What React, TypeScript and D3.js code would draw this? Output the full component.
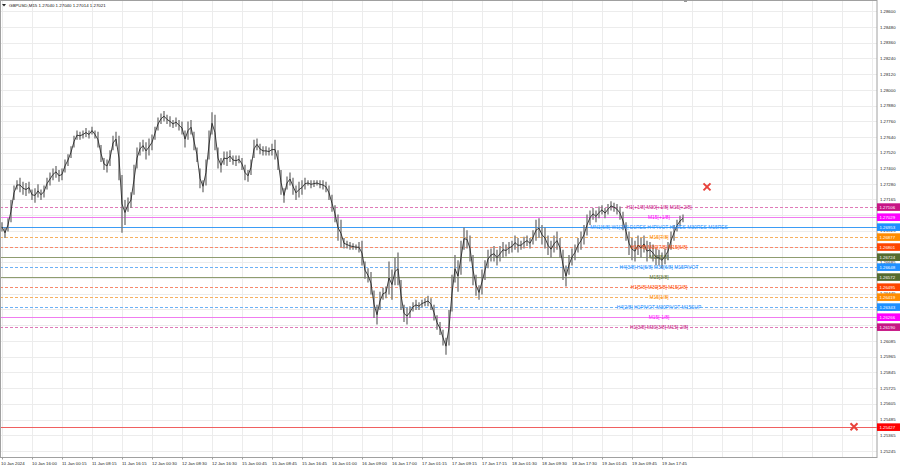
import React, { useEffect } from 'react';
import * as d3 from 'd3';

// price bars (one entry per ~50 min)
const highs = [
  1.2699, 1.2695, 1.2702, 1.2716, 1.2727, 1.2731, 1.2733, 1.2730, 1.2729, 1.2730,
  1.2724, 1.2725, 1.2728, 1.2724, 1.2727, 1.2733, 1.2737, 1.2740, 1.2742, 1.2739,
  1.2740, 1.2747, 1.2751, 1.2757, 1.2765, 1.2769, 1.2768, 1.2769, 1.2771, 1.2769,
  1.2772, 1.2769, 1.2768, 1.2758, 1.2748, 1.2747, 1.2754, 1.2765, 1.2768, 1.2765,
  1.2735, 1.2716, 1.2718, 1.2722, 1.2743, 1.2756, 1.2760, 1.2762, 1.2760, 1.2763,
  1.2766, 1.2772, 1.2779, 1.2782, 1.2784, 1.2781, 1.2780, 1.2777, 1.2779, 1.2777,
  1.2776, 1.2769, 1.2776, 1.2777, 1.2768, 1.2756, 1.2740, 1.2731, 1.2747, 1.2769,
  1.2783, 1.2781, 1.2756, 1.2748, 1.2753, 1.2753, 1.2754, 1.2750, 1.2750, 1.2750,
  1.2748, 1.2743, 1.2739, 1.2747, 1.2762, 1.2763, 1.2759, 1.2757, 1.2757, 1.2756,
  1.2759, 1.2762, 1.2754, 1.2739, 1.2725, 1.2734, 1.2737, 1.2733, 1.2727, 1.2730,
  1.2731, 1.2733, 1.2731, 1.2731, 1.2731, 1.2731, 1.2731, 1.2731, 1.2730, 1.2727,
  1.2720, 1.2712, 1.2705, 1.2701, 1.2687, 1.2685, 1.2684, 1.2683, 1.2682, 1.2684,
  1.2685, 1.2669, 1.2664, 1.2661, 1.2647, 1.2636, 1.2646, 1.2649, 1.2650, 1.2669,
  1.2663, 1.2672, 1.2676, 1.2655, 1.2636, 1.2634, 1.2635, 1.2638, 1.2640, 1.2638,
  1.2640, 1.2641, 1.2643, 1.2641, 1.2636, 1.2628, 1.2623, 1.2617, 1.2611, 1.2632,
  1.2659, 1.2674, 1.2670, 1.2685, 1.2695, 1.2693, 1.2689, 1.2674, 1.2659, 1.2651,
  1.2663, 1.2670, 1.2678, 1.2679, 1.2681, 1.2678, 1.2681, 1.2684, 1.2682, 1.2684,
  1.2685, 1.2689, 1.2687, 1.2685, 1.2688, 1.2689, 1.2687, 1.2693, 1.2701, 1.2702,
  1.2697, 1.2695, 1.2689, 1.2685, 1.2689, 1.2692, 1.2687, 1.2678, 1.2666, 1.2674,
  1.2679, 1.2682, 1.2687, 1.2692, 1.2697, 1.2705, 1.2708, 1.2710, 1.2708, 1.2711,
  1.2712, 1.2710, 1.2713, 1.2715, 1.2714, 1.2713, 1.2711, 1.2707, 1.2699, 1.2692,
  1.2687, 1.2685, 1.2689, 1.2687, 1.2689, 1.2685, 1.2684, 1.2682, 1.2679, 1.2678,
  1.2676, 1.2679, 1.2684, 1.2692, 1.2697, 1.2701, 1.2704, 1.2705,
];
const lows = [
  1.2692, 1.2687, 1.2692, 1.2699, 1.2716, 1.2724, 1.2722, 1.2720, 1.2719, 1.2721,
  1.2716, 1.2714, 1.2718, 1.2716, 1.2718, 1.2724, 1.2727, 1.2731, 1.2733, 1.2730,
  1.2731, 1.2737, 1.2742, 1.2748, 1.2756, 1.2762, 1.2762, 1.2763, 1.2764, 1.2763,
  1.2766, 1.2763, 1.2756, 1.2745, 1.2739, 1.2737, 1.2742, 1.2754, 1.2757, 1.2731,
  1.2691, 1.2697, 1.2707, 1.2710, 1.2720, 1.2740, 1.2750, 1.2753, 1.2747, 1.2750,
  1.2754, 1.2762, 1.2769, 1.2774, 1.2776, 1.2774, 1.2772, 1.2771, 1.2772, 1.2769,
  1.2766, 1.2756, 1.2762, 1.2766, 1.2754, 1.2745, 1.2725, 1.2722, 1.2727, 1.2747,
  1.2766, 1.2754, 1.2740, 1.2737, 1.2743, 1.2742, 1.2745, 1.2743, 1.2742, 1.2744,
  1.2739, 1.2731, 1.2730, 1.2735, 1.2748, 1.2754, 1.2751, 1.2750, 1.2750, 1.2750,
  1.2750, 1.2747, 1.2739, 1.2720, 1.2714, 1.2724, 1.2727, 1.2720, 1.2716, 1.2718,
  1.2720, 1.2724, 1.2727, 1.2725, 1.2726, 1.2727, 1.2725, 1.2724, 1.2722, 1.2716,
  1.2707, 1.2699, 1.2685, 1.2680, 1.2679, 1.2679, 1.2678, 1.2678, 1.2678, 1.2676,
  1.2666, 1.2656, 1.2653, 1.2644, 1.2626, 1.2621, 1.2632, 1.2640, 1.2641, 1.2644,
  1.2640, 1.2651, 1.2651, 1.2632, 1.2623, 1.2621, 1.2626, 1.2631, 1.2632, 1.2632,
  1.2634, 1.2635, 1.2635, 1.2632, 1.2624, 1.2617, 1.2613, 1.2605, 1.2598, 1.2605,
  1.2631, 1.2653, 1.2646, 1.2659, 1.2678, 1.2679, 1.2669, 1.2651, 1.2643, 1.2640,
  1.2644, 1.2655, 1.2664, 1.2669, 1.2669, 1.2666, 1.2669, 1.2672, 1.2673, 1.2675,
  1.2676, 1.2678, 1.2676, 1.2678, 1.2679, 1.2681, 1.2679, 1.2682, 1.2685, 1.2687,
  1.2682, 1.2679, 1.2674, 1.2672, 1.2676, 1.2678, 1.2672, 1.2655, 1.2650, 1.2659,
  1.2666, 1.2670, 1.2676, 1.2678, 1.2682, 1.2689, 1.2697, 1.2701, 1.2699, 1.2702,
  1.2705, 1.2702, 1.2705, 1.2708, 1.2707, 1.2705, 1.2701, 1.2693, 1.2685, 1.2674,
  1.2670, 1.2669, 1.2674, 1.2672, 1.2676, 1.2669, 1.2672, 1.2669, 1.2666, 1.2666,
  1.2664, 1.2667, 1.2670, 1.2678, 1.2685, 1.2692, 1.2696, 1.2699,
];

const timeLabels = [
  '10 Jan 2024', '10 Jan 16:00', '11 Jan 00:15', '11 Jan 08:15', '11 Jan 16:15',
  '12 Jan 00:30', '12 Jan 08:30', '12 Jan 16:30', '15 Jan 00:45', '15 Jan 08:45',
  '15 Jan 16:45', '16 Jan 01:00', '16 Jan 09:00', '16 Jan 17:00', '17 Jan 01:15',
  '17 Jan 09:15', '17 Jan 17:15', '18 Jan 01:30', '18 Jan 09:30', '18 Jan 17:30',
  '19 Jan 01:45', '19 Jan 09:45', '19 Jan 17:45',
];

const priceTicks = [
  1.286, 1.2848, 1.2836, 1.2824, 1.2812, 1.28, 1.2788, 1.2776, 1.2764, 1.2752,
  1.274, 1.2728, 1.27165, 1.27045, 1.26925, 1.26805, 1.26685, 1.26565, 1.26445,
  1.26325, 1.26205, 1.26085, 1.25965, 1.25845, 1.25725, 1.25605, 1.25485,
  1.25365, 1.25245,
];

const levelPrices = [
  1.27106, 1.27029, 1.26953, 1.26877, 1.26801, 1.26724, 1.26648,
  1.26572, 1.26495, 1.26419, 1.26343, 1.26266, 1.2619, 1.25427,
];
const levelLabels = [
  'H1[+1/8] M30[+1/8] M15[+2/8]',
  'M15[+1/8]',
  'MN1[6/8] W1[2/8] D1RES H4PIVOT H1RES M30RES M15RES',
  'M15[7/8]',
  'H1[7/8] M30[7/8] M15[6/8]',
  'M15[5/8]',
  'H4[3/8] H1[6/8] M30[6/8] M15PIVOT',
  'M15[3/8]',
  'H1[5/8] M30[5/8] M15[2/8]',
  'M15[1/8]',
  'H4[2/8] H1PIVOT M30PIVOT M15SUP',
  'M15[-1/8]',
  'H1[3/8] M30[3/8] M15[-2/8]',
  '',
];

// crosses: bar slot and price
const crossIdx = [235, 284];
const crossPrice = [1.2726, 1.2543];

const header = 'GBPUSD,M15  1.27040 1.27040 1.27014 1.27021';

// styles
const levelColors = [
  '#c71585', '#ff00ff', '#1e90ff', '#ff8c00', '#ff4500', '#556b2f', '#1e90ff',
  '#556b2f', '#ff4500', '#ff8c00', '#1e90ff', '#ff00ff', '#c71585', '#ff0000',
];
const lineColors = [
  '#e07ab8', '#f07cf0', '#3d9cf5', '#f7b060', '#f78a6c', '#8f9c70', '#6cb0f5',
  '#8f9c70', '#f78a6c', '#f7b060', '#6cb0f5', '#f07cf0', '#e07ab8', '#f06060',
];
const levelDashed = [
  true, false, false, true, true, false, true, false, true, true, true, false, true, false,
];

const W = 900;
const H = 468;
const plotRight = 877;
const plotBottom = 457.5;
const font = '"Liberation Sans", Arial, sans-serif';

export default function App() {
  useEffect(() => {
    document.body.style.margin = '0';
  }, []);

  const x = d3.scaleLinear().domain([0, highs.length - 1]).range([2, 683]);
  const y = d3.scaleLinear().domain([1.25245, 1.286]).range([451, 11.3]);

  const mid = d3.line<number>()
    .x((_, i) => x(i))
    .y((_, i) => y((highs[i] + lows[i]) / 2));

  const gridX = d3.range(0, 300, 10);
  const dashX = d3.range(0, plotRight, 5);
  const fmt = d3.format('.5f');

  return (
    <svg width={W} height={H} style={{ display: 'block', background: '#fff' }} fontFamily={font}>
      {/* grid */}
      <g fill="#ececec">
        {gridX.map(i => (
          <rect key={'gx' + i} x={Math.round(x(i))} y={1} width={1} height={plotBottom - 1} />
        ))}
        {priceTicks.map(p => (
          <rect key={'gy' + p} x={1} y={Math.round(y(p))} width={plotRight - 1} height={1} />
        ))}
      </g>

      {/* level lines */}
      {levelPrices.map((p, i) => {
        const ly = Math.round(y(p));
        return levelDashed[i] ? (
          <g key={'lv' + i} fill={lineColors[i]}>
            {dashX.map(dx => <rect key={dx} x={dx} y={ly} width={3} height={1} />)}
          </g>
        ) : (
          <rect key={'lv' + i} x={0} y={ly} width={plotRight} height={1} fill={lineColors[i]} />
        );
      })}

      {/* price bars */}
      <g stroke="#7a7a7a" strokeWidth={1.4}>
        {highs.map((h, i) => (
          <line key={'b' + i} x1={x(i)} x2={x(i)} y1={y(h)} y2={y(lows[i])} />
        ))}
      </g>
      <path d={mid(highs) || ''} fill="none" stroke="#2a2a2a" strokeWidth={0.9} />

      {/* level labels */}
      {levelLabels.map((t, i) => t ? (
        <text key={'ll' + i} x={659} y={y(levelPrices[i])} dy="0.45em" textAnchor="middle"
          fontSize={4.9} fill={levelColors[i]}>{t}</text>
      ) : null)}

      {/* crosses */}
      {crossIdx.map((ci, i) => {
        const cx = x(ci);
        const cy = y(crossPrice[i]);
        return (
          <g key={'c' + i} stroke="#e8413a" strokeWidth={2}>
            <line x1={cx - 3.5} x2={cx + 3.5} y1={cy - 3.5} y2={cy + 3.5} />
            <line x1={cx - 3.5} x2={cx + 3.5} y1={cy + 3.5} y2={cy - 3.5} />
          </g>
        );
      })}

      {/* frame */}
      <rect x={0.5} y={0.5} width={plotRight - 0.5} height={plotBottom - 0.5} fill="none" stroke="#a0a0a0" />
      <rect x={684} y={0} width={3} height={2} fill="#999" />

      {/* header */}
      <path d="M2,4 L6,4 L4,6.5 Z" fill="#222" />
      <text x={9} y={6.6} fontSize={4.4} fill="#111">{header}</text>

      {/* price axis */}
      {priceTicks.map(p => (
        <text key={'pt' + p} x={880} y={y(p)} dy="0.38em" fontSize={4.3} fill="#222">{fmt(p)}</text>
      ))}
      {levelPrices.map((p, i) => (
        <g key={'tag' + i}>
          <rect x={877} y={y(p) - 3.8} width={23} height={7.6} fill={levelColors[i]} />
          <text x={879.5} y={y(p)} dy="0.38em" fontSize={4.3} fill="#fff">{fmt(p)}</text>
        </g>
      ))}

      {/* time axis */}
      {timeLabels.map((t, k) => (
        <g key={'tl' + k}>
          <rect x={Math.round(x(k * 10))} y={plotBottom} width={1} height={2} fill="#a0a0a0" />
          <text x={x(k * 10) + (k === 0 ? -1 : 0)} y={465} fontSize={4.3} fill="#222">{t}</text>
        </g>
      ))}
    </svg>
  );
}
